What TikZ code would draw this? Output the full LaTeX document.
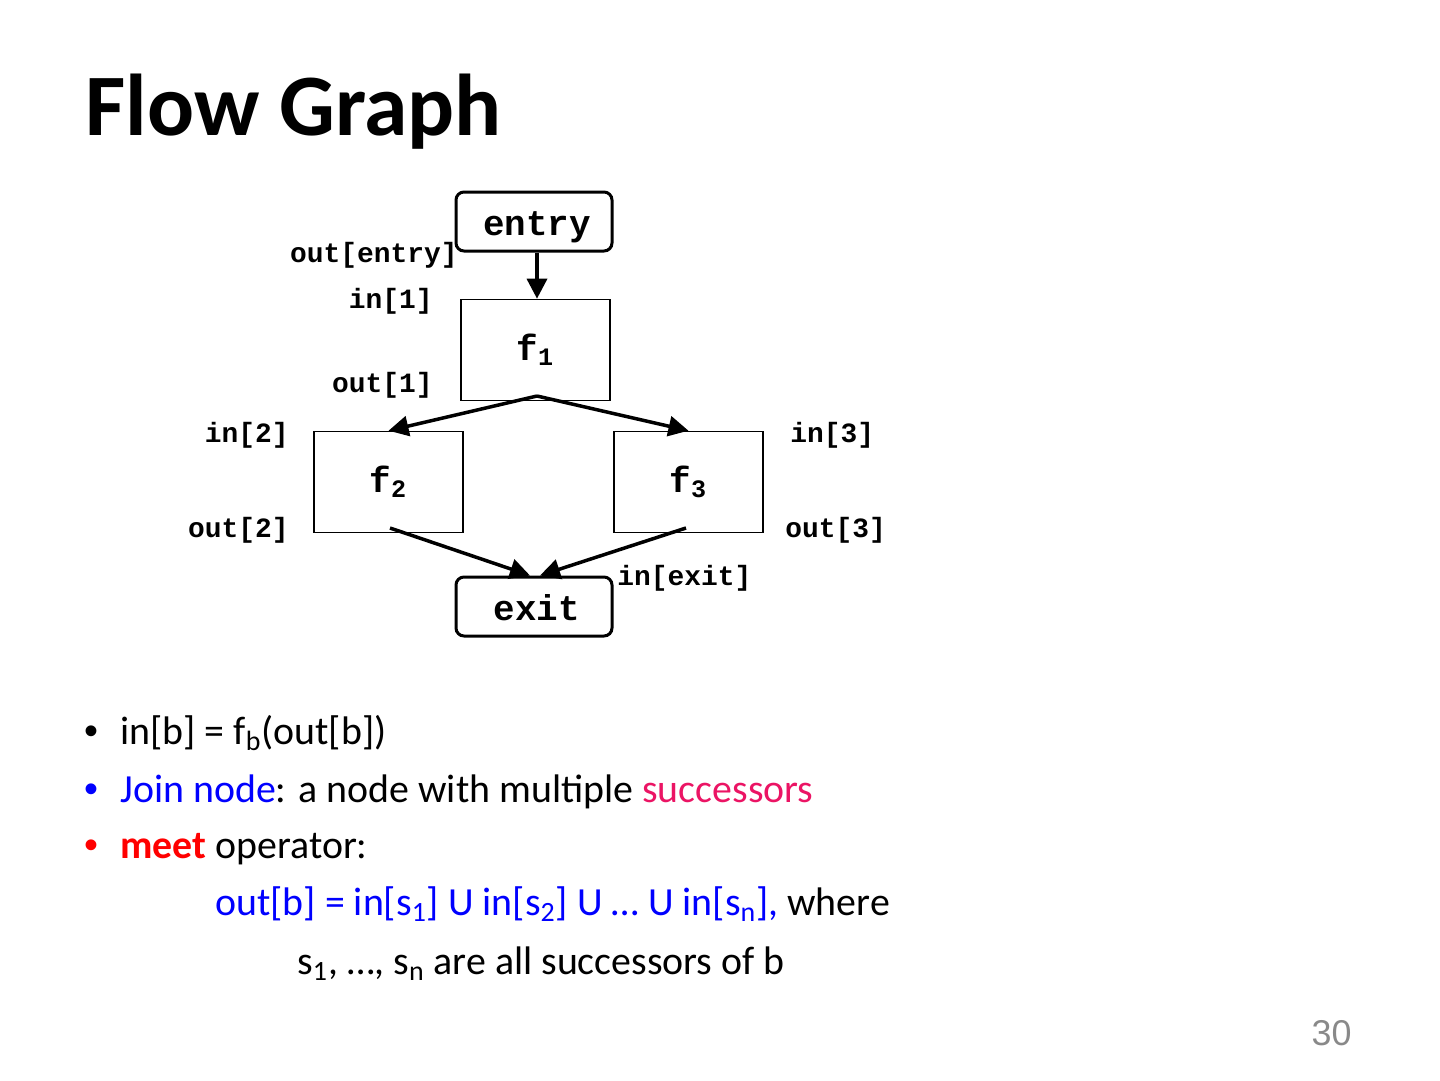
\documentclass[tikz,border=0pt]{standalone}
\usepackage{fontspec}
\setmainfont{Carlito}
\newfontfamily\mono{Liberation Mono}
\newfontfamily\numfont{Liberation Sans}
\usetikzlibrary{arrows.meta}
\definecolor{JoinClr}{rgb}{0,0,1}
\definecolor{SuccClr}{RGB}{235,20,100}
\definecolor{MeetClr}{rgb}{1,0,0}
\definecolor{NumClr}{RGB}{137,137,137}
\tikzset{
  blockbox/.style={draw,line width=0.8bp,minimum width=74.5bp,minimum height=50.5bp,inner sep=0pt,
    font=\mono\bfseries\fontsize{18}{20}\selectfont},
  termbox/.style={draw,line width=1.5bp,rounded corners=4bp,minimum width=78bp,minimum height=29.5bp,
    inner sep=0pt,text height=14bp,text depth=0.5bp,font=\mono\bfseries\fontsize{18}{20}\selectfont},
  flowlbl/.style={inner sep=0pt,font=\mono\bfseries\fontsize{14}{16}\selectfont},
  flowarr/.style={line width=1.75bp,-{Triangle[length=10bp,width=10bp]}},
  bodytxt/.style={anchor=base west,inner sep=0pt,font=\fontsize{20}{24}\selectfont},
  bulletdot/.style={anchor=base west,inner sep=0pt,font=\numfont\fontsize{20}{24}\selectfont}
}
\begin{document}
\begin{tikzpicture}[x=0.5bp,y=-0.5bp]
\useasboundingbox (0,0) rectangle (1440,1080);

\node[anchor=base west,inner sep=0pt,font=\bfseries\fontsize{44}{48}\selectfont] (title) at (85,135) {Flow Graph};

\node[termbox] (entry) at (534,221.5) {\,entry};
\node[blockbox] (f1) at (535.5,350) {f\textsubscript{1}};
\node[blockbox] (f2) at (388.5,482) {f\textsubscript{2}};
\node[blockbox] (f3) at (688.5,482) {f\textsubscript{3}};
\node[termbox] (exit) at (534,606.5) {\,exit};

\coordinate (o1) at (537,396);
\coordinate (o2) at (390,528);
\coordinate (o3) at (686,528);

\draw[flowarr] (entry.south -| o1) -- (f1.north -| o1);
\draw[flowarr] (o1) -- (f2.north);
\draw[flowarr] (o1) -- (f3.north);
\draw[flowarr] (o2) -- ([xshift=-2bp]exit.north);
\draw[flowarr] (o3) -- ([xshift=3bp]exit.north);

\node[flowlbl,anchor=east] (lout0) at (458,255) {out[entry]};
\node[flowlbl,anchor=east] (lin1) at (433,301) {in[1]};
\node[flowlbl,anchor=east] (lout1) at (433,385) {out[1]};
\node[flowlbl,anchor=east] (lin2) at (289,435) {in[2]};
\node[flowlbl,anchor=west] (lin3) at (790,435) {in[3]};
\node[flowlbl,anchor=east] (lout2) at (289,530) {out[2]};
\node[flowlbl,anchor=west] (lout3) at (785,530) {out[3]};
\node[flowlbl,anchor=west] (linx) at (617,578) {in[exit]};

\node[bulletdot] (dot1) at (84,744) {•};
\node[bodytxt] (b1) at (120,744) {in[b] = f\textsubscript{b}(out[b])};
\node[bulletdot,text=JoinClr] (dot2) at (84,802) {•};
\node[bodytxt] (b2) at (120,802) {\textcolor{JoinClr}{Join node}: a node with multiple \textcolor{SuccClr}{successors}};
\node[bulletdot,text=MeetClr] (dot3) at (84,858) {•};
\node[bodytxt] (b3) at (120,858) {\textcolor{MeetClr}{\textbf{meet}} operator:};
\node[bodytxt] (b4) at (215,915) {\textcolor{JoinClr}{out[b] = in[s\textsubscript{1}] U in[s\textsubscript{2}] U … U in[s\textsubscript{n}],} where};
\node[bodytxt] (b5) at (297,974) {s\textsubscript{1}, …, s\textsubscript{n} are all successors of b};

\node[anchor=base east,inner sep=0pt,text=NumClr,font=\numfont\fontsize{18}{20}\selectfont] (pnum) at (1352,1045) {30};
\end{tikzpicture}
\end{document}
